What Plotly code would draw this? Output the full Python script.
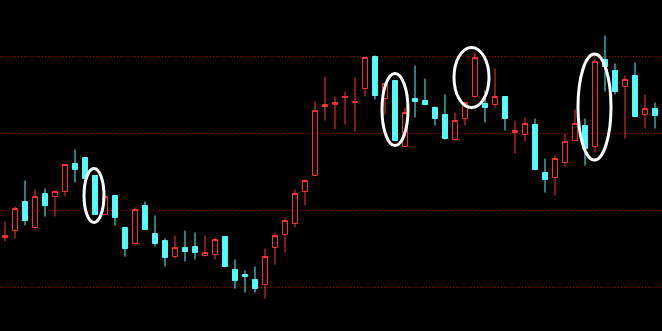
import plotly.graph_objects as go

# Daily candles (price units)
opens = [10.50, 10.57, 10.86, 10.60, 10.94, 10.91, 10.96, 11.24, 11.30, 11.12,
         10.73, 10.92, 10.60, 10.44, 10.82, 10.54, 10.47, 10.31, 10.40, 10.41,
         10.32, 10.33, 10.51, 10.18, 10.13, 10.08, 10.03, 10.40, 10.53, 10.64,
         10.96, 11.12, 11.81, 11.83, 11.90, 11.85, 11.99, 12.31, 11.89, 12.07,
         11.41, 11.89, 11.87, 11.80, 11.73, 11.48, 11.69, 11.91, 11.84, 11.83,
         11.91, 11.55, 11.53, 11.63, 11.15, 11.10, 11.25, 11.47, 11.62, 11.41,
         12.28, 12.17, 12.01, 12.12, 11.73, 11.79]
highs = [10.66, 10.81, 11.07, 10.98, 10.99, 10.96, 11.23, 11.38, 11.30, 11.12,
         10.91, 10.92, 10.60, 10.80, 10.86, 10.72, 10.49, 10.52, 10.57, 10.55,
         10.52, 10.50, 10.51, 10.28, 10.17, 10.21, 10.39, 10.55, 10.70, 10.98,
         11.08, 11.86, 12.11, 11.91, 11.96, 12.10, 12.30, 12.32, 12.04, 12.07,
         11.80, 12.22, 12.09, 11.81, 11.93, 11.75, 11.85, 12.35, 11.97, 12.19,
         11.91, 11.67, 11.70, 11.69, 11.29, 11.32, 11.54, 11.78, 11.69, 12.28,
         12.52, 12.24, 12.12, 12.25, 11.93, 11.85]
lows = [10.46, 10.49, 10.62, 10.58, 10.71, 10.71, 10.91, 11.05, 11.09, 10.73,
        10.73, 10.62, 10.31, 10.43, 10.58, 10.41, 10.21, 10.29, 10.26, 10.28,
        10.31, 10.28, 10.20, 9.99, 9.95, 9.95, 9.89, 10.23, 10.35, 10.60,
        10.82, 11.12, 11.67, 11.58, 11.63, 11.56, 11.91, 11.88, 11.73, 11.47,
        11.41, 11.70, 11.83, 11.62, 11.48, 11.48, 11.62, 11.90, 11.65, 11.80,
        11.57, 11.34, 11.46, 11.18, 10.95, 10.92, 11.21, 11.47, 11.22, 11.35,
        11.96, 11.93, 11.49, 11.71, 11.59, 11.59]
closes = [10.52, 10.79, 10.67, 10.91, 10.82, 10.96, 11.23, 11.18, 11.09, 10.73,
          10.91, 10.70, 10.39, 10.78, 10.58, 10.44, 10.30, 10.40, 10.36, 10.35,
          10.35, 10.48, 10.21, 10.07, 10.11, 9.99, 10.31, 10.52, 10.67, 10.94,
          11.07, 11.77, 11.83, 11.85, 11.91, 11.86, 12.30, 11.92, 12.04, 11.47,
          11.75, 11.86, 11.83, 11.69, 11.49, 11.67, 11.85, 12.30, 11.80, 11.91,
          11.69, 11.57, 11.64, 11.18, 11.08, 11.29, 11.46, 11.64, 11.39, 12.26,
          12.21, 11.96, 12.08, 11.71, 11.79, 11.72]
days = list(range(len(opens)))

# Horizontal reference levels (dotted grid)
grid_levels = [10.00, 10.77, 11.54, 12.31]

# Highlight ellipses: [x0, x1, y0, y1] in data units
highlights = [
    [7.9, 9.9, 10.65, 11.19],
    [37.7, 40.3, 11.42, 12.14],
    [44.9, 48.4, 11.80, 12.40],
    [57.3, 60.6, 11.275, 12.335],
]

RED = "#ff3232"
CYAN = "#54fcfc"

fig = go.Figure(go.Candlestick(
    x=days, open=opens, high=highs, low=lows, close=closes,
    increasing=dict(line=dict(color=RED, width=1), fillcolor="#000000"),
    decreasing=dict(line=dict(color=CYAN, width=1), fillcolor=CYAN),
    whiskerwidth=0,
    showlegend=False,
    hoverinfo="skip",
))

for x0, x1, y0, y1 in highlights:
    fig.add_shape(type="circle", xref="x", yref="y",
                  x0=x0, x1=x1, y0=y0, y1=y1,
                  line=dict(color="white", width=3), layer="above")

fig.update_layout(
    width=662, height=331,
    margin=dict(l=0, r=0, t=0, b=0),
    paper_bgcolor="#000000",
    plot_bgcolor="#000000",
    showlegend=False,
    xaxis=dict(range=[-0.5, 65.7], showgrid=False, zeroline=False,
               showticklabels=False, showline=False, ticks="",
               rangeslider=dict(visible=False)),
    yaxis=dict(range=[12.875 - 3.31, 12.875], tickvals=grid_levels,
               showticklabels=False, ticks="", zeroline=False, showline=False,
               showgrid=True, gridcolor="#b00000", gridwidth=1,
               griddash="1px,2px"),
)

fig.write_html("out.html")
